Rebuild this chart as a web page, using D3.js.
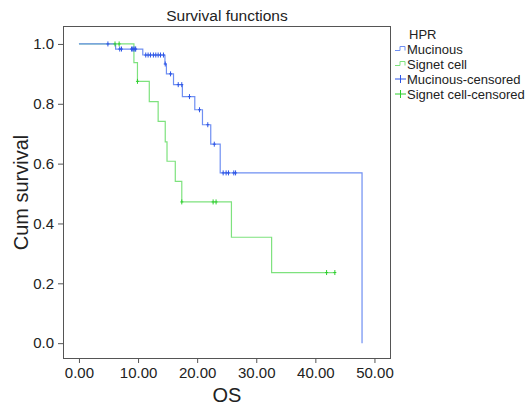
<!DOCTYPE html>
<html><head><meta charset="utf-8">
<script src="https://cdn.jsdelivr.net/npm/d3@7"></script>
<style>body{margin:0;background:#fff}svg{display:block}text{font-family:"Liberation Sans",Arial,sans-serif;fill:#222}</style>
</head><body><svg id="c" width="525" height="407"></svg>
<script>
const mucinousTimes = [0, 6.2, 10.8, 14.55, 14.8, 16.0, 17.5, 19.6, 20.9, 22.3, 23.9, 47.9];
const mucinousSurv  = [1.0, 0.983, 0.963, 0.933, 0.9, 0.864, 0.824, 0.78, 0.73, 0.665, 0.569, 0.0];
const mucinousCensorT = [4.9, 6.9, 7.2, 8.9, 9.1, 9.3, 9.5, 9.6, 11.3, 11.7, 12.1, 12.6, 13.0, 13.4, 13.8, 14.3, 14.6, 15.5, 16.8, 17.4, 18.7, 20.4, 21.8, 22.9, 24.4, 24.9, 25.3, 26.2, 26.5];
const signetTimes = [0, 9.3, 9.9, 11.9, 13.4, 14.6, 14.9, 16.3, 17.4, 25.8, 32.6];
const signetSurv  = [1.0, 0.9375, 0.875, 0.807, 0.741, 0.673, 0.608, 0.541, 0.472, 0.354, 0.236];
const signetEnd = 43.3;
const signetCensorT = [6.1, 6.8, 9.9, 17.4, 22.7, 23.2, 41.9, 43.3];
const xTicks = [0, 10, 20, 30, 40, 50];
const yTicks = [0, 0.2, 0.4, 0.6, 0.8, 1.0];
const legendLabels = ["Mucinous", "Signet cell", "Mucinous-censored", "Signet cell-censored"];

const svg = d3.select("#c");
const L = 63, R = 391, T = 26, B = 359;
const x = d3.scaleLinear().domain([-2.7, 52.8]).range([L, R]);
const y = d3.scaleLinear().domain([-0.053, 1.06]).range([B, T]);
const frameCol = "#555";
const blueLine = "#6f8ff2", blueMark = "#2d55e6";
const greenLine = "#7ee27e", greenMark = "#2fcf2f";

svg.append("text").attr("x", (L+R)/2).attr("y", 21).attr("text-anchor","middle")
  .style("font-size","15.5px").text("Survival functions");

const ya = svg.append("g").attr("transform", `translate(${L},0)`)
  .call(d3.axisLeft(y).tickValues(yTicks).tickFormat(d3.format(".1f")).tickSize(5).tickPadding(4));
const xa = svg.append("g").attr("transform", `translate(0,${B})`)
  .call(d3.axisBottom(x).tickValues(xTicks).tickFormat(d3.format(".2f")).tickSize(4).tickPadding(4));
[ya, xa].forEach(g => {
  g.select(".domain").remove();
  g.selectAll("line").attr("stroke", frameCol);
  g.selectAll("text").style("font-size","15px").attr("fill","#222");
});

svg.append("rect").attr("x", L+0.5).attr("y", T+0.5).attr("width", R-L-1).attr("height", B-T-1)
  .attr("fill","none").attr("stroke", frameCol).attr("stroke-width",1);

svg.append("text").attr("x",(L+R)/2).attr("y", 402).attr("text-anchor","middle")
  .style("font-size","20px").text("OS");
svg.append("text").attr("transform", `translate(28,${(T+B)/2}) rotate(-90)`).attr("text-anchor","middle")
  .style("font-size","20px").text("Cum survival");

function stepPath(times, surv, end) {
  const pts = [];
  for (let i = 0; i < times.length; i++) {
    if (i > 0) pts.push([times[i], surv[i-1]]);
    pts.push([times[i], surv[i]]);
  }
  if (end !== undefined) pts.push([end, surv[surv.length-1]]);
  return d3.line().x(d => x(d[0])).y(d => y(d[1]))(pts);
}
function survAt(times, surv, t) {
  let s = surv[0];
  for (let i = 0; i < times.length; i++) if (times[i] <= t) s = surv[i];
  return s;
}

svg.append("path").attr("d", stepPath(signetTimes, signetSurv, signetEnd))
  .attr("fill","none").attr("stroke", greenLine).attr("stroke-width",1.2);
svg.append("path").attr("d", stepPath(mucinousTimes, mucinousSurv))
  .attr("fill","none").attr("stroke", blueLine).attr("stroke-width",1.2);

function marks(ts, times, surv, col) {
  svg.append("g").selectAll("path").data(ts).join("path")
    .attr("d", t => { const cx = x(t), cy = y(survAt(times, surv, t));
      return `M${cx},${cy-2.5}V${cy+2.5}M${cx-1.5},${cy}H${cx+1.5}`; })
    .attr("stroke", col).attr("stroke-width",1).attr("fill","none");
}
marks(signetCensorT, signetTimes, signetSurv, greenMark);
marks(mucinousCensorT, mucinousTimes, mucinousSurv, blueMark);

const lg = svg.append("g");
lg.append("text").attr("x",409).attr("y",39).style("font-size","13px").text("HPR");
const ly = [49, 64, 79, 94];
const lcols = [blueLine, greenLine, blueMark, greenMark];
legendLabels.forEach((lab, i) => {
  const yy = ly[i];
  if (i < 2) {
    lg.append("path").attr("d", `M395,${yy+1.5}H400V${yy-2.5}H405V${yy+1.5}`)
      .attr("fill","none").attr("stroke", lcols[i]).attr("stroke-width",1);
  } else {
    lg.append("path").attr("d", `M395,${yy}H406M400.5,${yy-4}V${yy+4}`)
      .attr("fill","none").attr("stroke", lcols[i]).attr("stroke-width",1);
  }
  lg.append("text").attr("x",407).attr("y",yy+4.5).style("font-size","13px").text(lab);
});
</script></body></html>
